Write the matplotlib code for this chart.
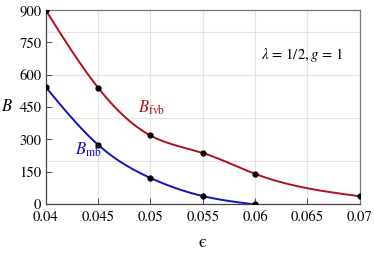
import numpy as np
import matplotlib
matplotlib.use("Agg")
import matplotlib.pyplot as plt

# data
eps_fvb = [0.04, 0.045, 0.05, 0.055, 0.06, 0.07]
B_fvb = [900, 540, 318, 237, 140, 36]
eps_mb = [0.04, 0.045, 0.05, 0.055, 0.06]
B_mb = [543, 275, 121, 37, -2]

x_ticks = [0.04, 0.045, 0.05, 0.055, 0.06, 0.065, 0.07]
x_ticklabels = ["0.04", "0.045", "0.05", "0.055", "0.06", "0.065", "0.07"]
y_ticks = [0, 150, 300, 450, 600, 750, 900]
x_grid = [0.045, 0.05, 0.055, 0.06, 0.065]
y_grid = [200, 400, 600, 800]


def spline(x, y, n=200):
    # natural cubic spline, only used to draw a smooth line through the points
    x = np.asarray(x, float)
    y = np.asarray(y, float)
    k = len(x)
    h = np.diff(x)
    A = np.zeros((k, k))
    r = np.zeros(k)
    A[0, 0] = A[-1, -1] = 1
    for i in range(1, k - 1):
        A[i, i - 1] = h[i - 1]
        A[i, i] = 2 * (h[i - 1] + h[i])
        A[i, i + 1] = h[i]
        r[i] = 6 * ((y[i + 1] - y[i]) / h[i] - (y[i] - y[i - 1]) / h[i - 1])
    M = np.linalg.solve(A, r)
    xs = np.linspace(x[0], x[-1], n)
    idx = np.clip(np.searchsorted(x, xs) - 1, 0, k - 2)
    x0, x1 = x[idx], x[idx + 1]
    hh = x1 - x0
    a = (x1 - xs) / hh
    b = (xs - x0) / hh
    ys = a * y[idx] + b * y[idx + 1] + ((a**3 - a) * M[idx] + (b**3 - b) * M[idx + 1]) * hh**2 / 6
    return xs, ys


plt.rcParams["font.family"] = ["STIXGeneral", "DejaVu Serif"]
plt.rcParams["mathtext.fontset"] = "stix"

red = "#b0101a"
blue = "#1212c0"

fig = plt.figure(figsize=(3.74, 2.56), dpi=100)
ax = fig.add_axes([0.122, 0.203, 0.840, 0.758])

for gx in x_grid:
    ax.axvline(gx, color="#e3e3e3", lw=0.8, zorder=0)
for gy in y_grid:
    ax.axhline(gy, color="#e3e3e3", lw=0.8, zorder=0)

xs, ys = spline(eps_fvb, B_fvb)
ax.plot(xs, ys, color=red, lw=1.4, zorder=2)
xs, ys = spline(eps_mb, B_mb)
ax.plot(xs, ys, color=blue, lw=1.4, zorder=2)
ax.plot(eps_fvb, B_fvb, "o", color="black", ms=3.5, zorder=3)
ax.plot(eps_mb, B_mb, "o", color="black", ms=3.5, zorder=3)

ax.set_xlim(0.04, 0.07)
ax.set_ylim(0, 900)
ax.set_xticks(x_ticks)
ax.set_xticklabels(x_ticklabels)
ax.set_yticks(y_ticks)
ax.tick_params(direction="in", length=4, width=0.6, labelsize=10.5, colors="#333333",
               labelcolor="black")
ax.tick_params(axis="x", pad=5)
ax.tick_params(axis="y", pad=3)

for s in ["left", "bottom"]:
    ax.spines[s].set_color("#444444")
    ax.spines[s].set_linewidth(0.9)
for s in ["top", "right"]:
    ax.spines[s].set_color("#777777")
    ax.spines[s].set_linewidth(0.9)

ax.set_xlabel("ϵ", fontsize=13, labelpad=8)
ax.set_ylabel(r"$B$", fontsize=12, rotation=0, labelpad=9, va="center")

ax.text(0.0684, 690, r"$\lambda\,=\,1/2,g\,=\,1$", fontsize=10.5, ha="right", va="center")
ax.text(0.0488, 445, r"$B_{\rm fvb}$", color=red, fontsize=12, ha="left", va="center")
ax.text(0.0428, 250, r"$B_{\rm mb}$", color=blue, fontsize=12, ha="left", va="center")

fig.savefig("out.png", dpi=100)
